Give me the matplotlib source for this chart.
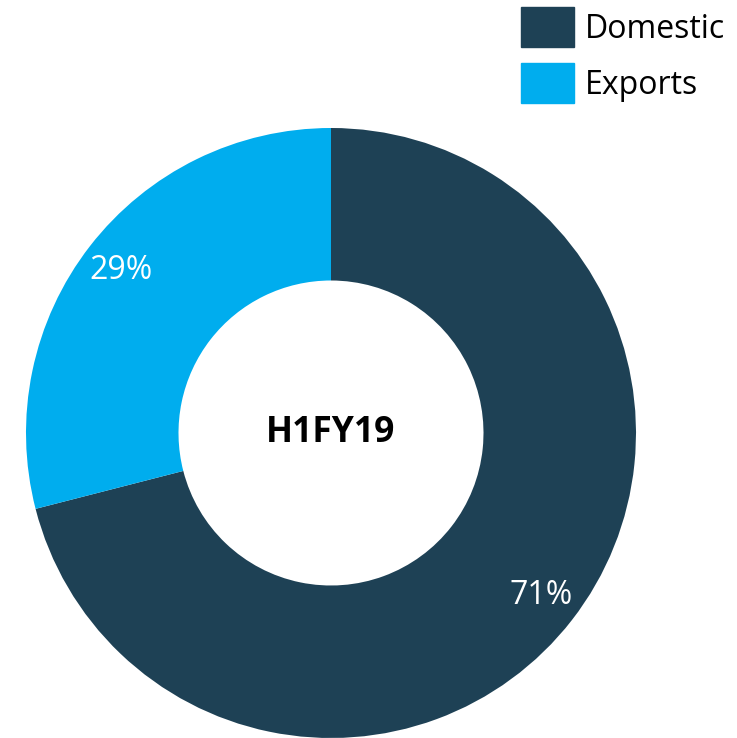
import matplotlib
matplotlib.use("Agg")
import matplotlib.pyplot as plt
from matplotlib.patches import Rectangle

categories = ["Domestic", "Exports"]
values = [71, 29]
colors = ["#1E4155", "#00ADEE"]
center_label = "H1FY19"

plt.rcParams['font.family'] = ['Open Sans', 'DejaVu Sans']

W, H = 737, 738
fig = plt.figure(figsize=(W / 100, H / 100), dpi=100)
ax = fig.add_axes([0, 0, 1, 1])
cx, cy, R = 331, 433, 305

wedges, texts, autotexts = ax.pie(
    values, colors=colors, startangle=90, counterclock=False,
    radius=1.0, wedgeprops=dict(width=0.5, edgecolor='none'),
    autopct=lambda p: f"{p:.0f}%", pctdistance=0.87,
    textprops=dict(color='white', fontsize=23))
ax.set_aspect('auto')
ax.set_xlim(-cx / R, (W - cx) / R)
ax.set_ylim(-(H - cy) / R, cy / R)
ax.axis('off')

ax.text(0, 0, center_label, ha='center', va='center', fontsize=25.5,
        fontweight='bold', color='black')

# legend
leg_x0, leg_w = 521 / W, 53 / W
rows_top = [7, 63]
for i, (cat, col) in enumerate(zip(categories, colors)):
    top = rows_top[i]
    fig.patches.append(Rectangle((leg_x0, 1 - (top + 40) / H), leg_w, 40 / H,
                                 transform=fig.transFigure, color=col))
    fig.text(585 / W, 1 - (top + 22) / H, cat, ha='left', va='center',
             fontsize=23, color='black')

fig.savefig("out.png", dpi=100)
